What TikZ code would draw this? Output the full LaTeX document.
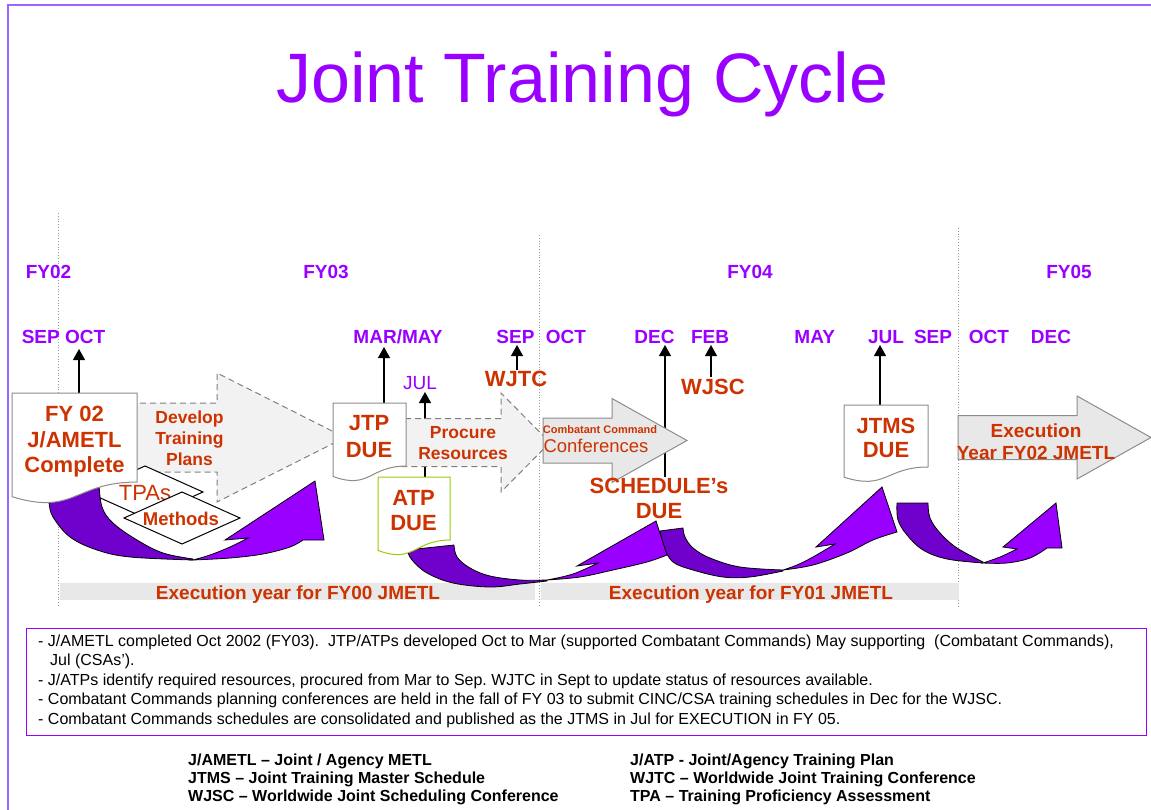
\documentclass[tikz,border=0pt]{standalone}
\usepackage{fontspec}
\setmainfont{Liberation Sans}
\usetikzlibrary{arrows.meta}
\frenchspacing
\definecolor{jtpurple}{HTML}{9900FF}
\definecolor{jtorange}{HTML}{CC3300}
\definecolor{jtdark}{HTML}{7000CC}
\definecolor{jtframe}{HTML}{9966FF}
\definecolor{jtgreen}{HTML}{99CC00}
\definecolor{jtbar}{HTML}{E8E8E8}
\newcommand{\fsz}[2]{\fontsize{#1}{#2}\selectfont}
% document (wavy bottom) outline: [style] x1, top, x2, height
\newcommand{\jtcdoc}[5][]{%
  \path[docbox,#1] (#2,#3) -- (#4,#3) -- (#4,{#3+0.802*#5})
    .. controls ({(#2+#4)/2},{#3+0.802*#5}) and ({(#2+#4)/2},{#3+1.1075*#5})
    .. (#2,{#3+0.934*#5}) -- cycle;}
% block arrow: style, x start, head base x, tip x, centre y, body half height, head half height
\newcommand{\jtcblock}[7]{%
  \path[#1] (#2,{#5-#6}) -- (#3,{#5-#6}) -- (#3,{#5-#7}) -- (#4,#5)
    -- (#3,{#5+#7}) -- (#3,{#5+#6}) -- (#2,{#5+#6}) -- cycle;}
\begin{document}
\begin{tikzpicture}[x=1pt,y=-1pt,
  lbl/.style={inner sep=0pt, anchor=base},
  mon/.style={lbl, text=jtpurple, font=\bfseries\fsz{19}{22}},
  redlbl/.style={lbl, text=jtorange, font=\bfseries\fsz{22}{25}},
  doctxt/.style={inner sep=0pt, text=jtorange, align=center, font=\bfseries\fsz{22}{25.5}},
  arrtxt/.style={inner sep=0pt, text=jtorange, align=center, font=\bfseries\fsz{17.5}{21}},
  bartxt/.style={lbl, text=jtorange, font=\bfseries\fsz{19}{22}},
  uparrow/.style={draw=black, line width=1.2pt, -{Triangle[width=12pt,length=11pt]}},
  docbox/.style={draw=black!45, fill=white, line width=1pt},
  dasharrow/.style={draw=black!50, dash pattern=on 6pt off 4pt, fill=black!5, line width=1pt},
  solidarrow/.style={draw=black!45, fill=black!9, line width=1pt},
  backband/.style={draw=black, fill=jtdark, line width=0.8pt, line join=round},
  frontband/.style={draw=black, fill=jtpurple, line width=0.8pt, line join=miter},
  rhomb/.style={draw=black, fill=white, line width=1pt},
  vline/.style={draw=black!40, dotted, line width=0.8pt},
  notetxt/.style={inner sep=0pt, anchor=base west, font=\fsz{16}{19}},
  keytxt/.style={inner sep=0pt, anchor=base west, font=\bfseries\fsz{16}{18}}]
\useasboundingbox (0,0) rectangle (1151,810);

% page frame
\draw[jtframe, line width=2pt] (8,810) -- (8,5) -- (1151,5);

% title
\node[lbl, text=jtpurple, font=\fsz{70}{80}] (title) at (582.5,103) {Joint Training Cycle};

% fiscal year separators and execution bands
\draw[vline] (58,213) -- (58,607);
\draw[vline] (539,235) -- (539,607);
\draw[vline] (958,228) -- (958,607);
\fill[jtbar] (60,583) rectangle (535,600);
\fill[jtbar] (541,583) rectangle (959,600);
\node[bartxt] (band00) at (298,599) {Execution year for FY00 JMETL};
\node[bartxt] (band01) at (751,599) {Execution year for FY01 JMETL};

% fiscal years
\node[mon] (fy02) at (48.5,278.8) {FY02};
\node[mon] (fy03) at (326,278.8) {FY03};
\node[mon] (fy04) at (750,278.8) {FY04};
\node[mon] (fy05) at (1069,278.8) {FY05};

% months
\node[mon] (msepoct) at (63.5,343.8) {SEP OCT};
\node[mon] (mmarmay) at (398,343.8) {MAR/MAY};
\node[lbl, text=jtpurple, font=\fsz{19}{22}] (mjul) at (420,389.8) {JUL};
\node[mon] (msep) at (515.5,343.8) {SEP};
\node[mon] (moct) at (566,343.8) {OCT};
\node[mon] (mdec) at (654.5,343.8) {DEC};
\node[mon] (mfeb) at (710,343.8) {FEB};
\node[mon] (mmay) at (814.7,343.8) {MAY};
\node[mon] (mjulb) at (886,343.8) {JUL};
\node[mon] (msepb) at (933,343.8) {SEP};
\node[mon] (moctb) at (989,343.8) {OCT};
\node[mon] (mdecb) at (1051,343.8) {DEC};

% milestone arrows
\coordinate (s1) at (79,393);   \coordinate (t1) at (79,349);
\coordinate (s2) at (384,403);  \coordinate (t2) at (384,347);
\coordinate (s3) at (425,477);  \coordinate (t3) at (425,392);
\coordinate (s4) at (517,370);  \coordinate (t4) at (517,345);
\coordinate (s5) at (665,477);  \coordinate (t5) at (665,345);
\coordinate (s6) at (711,377);  \coordinate (t6) at (711,345);
\coordinate (s7) at (880,405);  \coordinate (t7) at (880,345);
\foreach \i in {1,...,7} {\draw[uparrow] (s\i) -- (t\i);}

% process arrows
\jtcblock{dasharrow}{120}{217}{345}{437.5}{34.5}{64.5}
\jtcblock{dasharrow}{395}{501}{550}{442.5}{24}{49.5}
\jtcblock{solidarrow}{543}{612}{687}{440.5}{22.5}{42}
\jtcblock{solidarrow}{958}{1077}{1151}{437.5}{22}{41.5}

\node[arrtxt] (develop) at (189.5,438) {Develop\\Training\\Plans};
\node[arrtxt, font=\bfseries\fsz{17.5}{20.5}] (procure) at (463,443) {Procure\\Resources};
\node[lbl, text=jtorange, font=\bfseries\fsz{11}{13}] (ccmd) at (600,433) {Combatant Command};
\node[lbl, text=jtorange, font=\fsz{18.5}{22}] (conf) at (596,452.6) {Conferences};
\node[arrtxt, font=\bfseries\fsz{19}{22}] (exec) at (1036,442) {Execution\\Year FY02 JMETL};

% assessment products
\path[rhomb] (145,466) -- (203,492) -- (145,518) -- (87,492) -- cycle;
\node[lbl, text=jtorange, font=\fsz{22}{25}] (tpas) at (145,500) {TPAs};
\path[rhomb] (182,492) -- (240,518) -- (182,544) -- (124,518) -- cycle;
\node[lbl, text=jtorange, font=\bfseries\fsz{18.5}{22}] (methods) at (181,525) {Methods};

% curved cycle arrows
\path[backband] plot[smooth, tension=0.6] coordinates {(47,490) (49,503) (53,517) (70,537) (97,550) (130,557) (193,560)}
  -- plot[smooth, tension=0.6] coordinates {(193,559) (163,553) (137,540) (113,523) (102,507) (99,484)} -- cycle;
\path[frontband] plot[smooth, tension=0.6] coordinates {(193,560) (230,558) (263,554) (290,547) (303,540)}
  -- (324,540) -- (315,481) -- (225,540) -- (248,538)
  -- plot[smooth, tension=0.6] coordinates {(248,538) (230,547) (210,555) (193,560)} -- cycle;

\path[backband] (660,531) -- (683,528)
  -- plot[smooth, tension=0.6] coordinates {(683,528) (685,537) (693,548) (710,558) (740,567) (783,570)}
  -- plot[smooth, tension=0.6] coordinates {(783,571) (750,577) (723,577) (693,570) (673,562) (664,547) (660,531)} -- cycle;
\path[frontband] plot[smooth, tension=0.6] coordinates {(783,570) (813,565) (847,553) (873,540) (897,532)}
  -- (882,487) -- (816,547) -- (835,544)
  -- plot[smooth, tension=0.6] coordinates {(835,544) (813,557) (797,565) (783,570)} -- cycle;

\path[backband] (407,550) -- (454,545)
  -- plot[smooth, tension=0.6] coordinates {(454,545) (457,557) (470,568) (490,576) (520,580) (547,580)}
  -- plot[smooth, tension=0.6] coordinates {(547,581) (520,584) (490,587) (453,583) (427,573) (412,560) (407,550)} -- cycle;
\path[frontband] plot[smooth, tension=0.6] coordinates {(547,580) (580,577) (613,570) (647,562) (667,555)}
  -- (656,521) -- (577,566) -- (598,563)
  -- plot[smooth, tension=0.6] coordinates {(598,563) (573,574) (547,580)} -- cycle;

\path[backband] (897,503) -- (928,503)
  -- plot[smooth, tension=0.6] coordinates {(928,503) (930,518) (940,533) (957,548) (983,562)}
  -- plot[smooth, tension=0.6] coordinates {(983,563) (947,559) (923,550) (907,535) (898,520) (897,503)} -- cycle;
\path[frontband] plot[smooth, tension=0.6] coordinates {(983,563) (1007,563) (1030,558) (1047,548)}
  -- (1062,548) -- (1056,503) -- (1003,547) -- (1017,549)
  -- plot[smooth, tension=0.6] coordinates {(1017,549) (1000,557) (983,563)} -- cycle;

% milestone documents
\jtcdoc{12}{393}{137}{111}
\node[doctxt] (jametl) at (74.5,442) {FY 02\\J/AMETL\\Complete};
\jtcdoc{333}{403}{406}{78.6}
\node[doctxt, font=\bfseries\fsz{22}{27}] (jtp) at (369,436.5) {JTP\\DUE};
\jtcdoc[draw=jtgreen]{378}{477}{450}{78.6}
\node[doctxt, font=\bfseries\fsz{22}{25}] (atp) at (413.5,510.5) {ATP\\DUE};
\jtcdoc{844}{405}{928}{77.3}
\node[doctxt, font=\bfseries\fsz{22}{24}] (jtms) at (886,438) {JTMS\\DUE};

% events
\node[redlbl] (wjtc) at (516,386) {WJTC};
\node[redlbl] (wjsc) at (713,394) {WJSC};
\node[doctxt, font=\bfseries\fsz{22}{25}] (sched) at (659,498.5) {SCHEDULE’s\\DUE};

% notes
\node[draw=jtpurple, line width=1pt, minimum width=1120pt, minimum height=107pt, inner sep=0pt] (notes) at (586,681.5) {};
\node[notetxt] (n1) at (38,646) {-\ J/AMETL completed Oct 2002 (FY03).\ \ JTP/ATPs developed Oct to Mar (supported Combatant Commands) May supporting\ \ (Combatant Commands),};
\node[notetxt] (n1b) at (50,665.6) {Jul (CSAs’).};
\node[notetxt] (n2) at (38,685.2) {-\ J/ATPs identify required resources, procured from Mar to Sep. WJTC in Sept to update status of resources available.};
\node[notetxt] (n3) at (38,704.8) {-\ Combatant Commands planning conferences are held in the fall of FY 03 to submit CINC/CSA training schedules in Dec for the WJSC.};
\node[notetxt] (n4) at (38,724.4) {-\ Combatant Commands schedules are consolidated and published as the JTMS in Jul for EXECUTION in FY 05.};

% abbreviations
\node[keytxt] (k1) at (188,765.7) {J/AMETL – Joint / Agency METL};
\node[keytxt] (k2) at (188,783.7) {JTMS – Joint Training Master Schedule};
\node[keytxt] (k3) at (188,801.7) {WJSC – Worldwide Joint Scheduling Conference};
\node[keytxt] (k4) at (630,765.7) {J/ATP - Joint/Agency Training Plan};
\node[keytxt] (k5) at (630,783.7) {WJTC – Worldwide Joint Training Conference};
\node[keytxt] (k6) at (630,801.7) {TPA – Training Proficiency Assessment};
\end{tikzpicture}
\end{document}
